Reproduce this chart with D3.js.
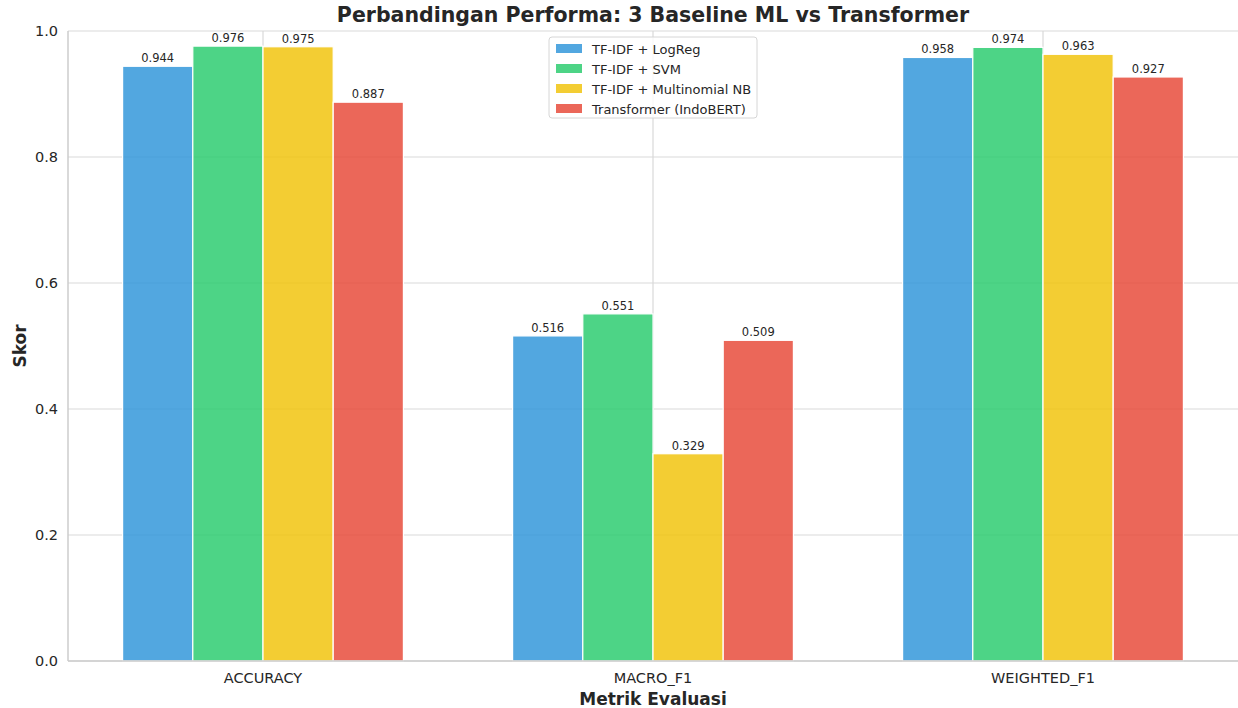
<!DOCTYPE html>
<html>
<head>
<meta charset="utf-8">
<script src="https://cdn.jsdelivr.net/npm/d3@7"></script>
<style>
  body { margin: 0; background: #fff; }
  text { font-family: "DejaVu Sans", sans-serif; fill: #262626; }
</style>
</head>
<body>
<svg id="chart" width="1238" height="708"></svg>
<script>
var metrics = ['ACCURACY', 'MACRO_F1', 'WEIGHTED_F1'];
var models = ['TF-IDF + LogReg', 'TF-IDF + SVM', 'TF-IDF + Multinomial NB', 'Transformer (IndoBERT)'];
var colors = ['#3498db', '#2ecc71', '#f1c40f', '#e74c3c'];
var logreg = [0.944, 0.516, 0.958];
var svm = [0.976, 0.551, 0.974];
var nb = [0.975, 0.329, 0.963];
var indobert = [0.887, 0.509, 0.927];
var series = [logreg, svm, nb, indobert];
var yTicks = [0, 0.2, 0.4, 0.6, 0.8, 1.0];

var svg = d3.select('#chart');
var mLeft = 68, mRight = 1238, mTop = 31, mBottom = 661;

var x = d3.scaleLinear().domain([-0.5, 2.5]).range([mLeft, mRight]);
var y = d3.scaleLinear().domain([0, 1]).range([mBottom, mTop]);
var bw = 0.18;

// grid
svg.append('g').selectAll('line').data(yTicks).enter().append('line')
  .attr('x1', mLeft).attr('x2', mRight)
  .attr('y1', function(d) { return y(d); }).attr('y2', function(d) { return y(d); })
  .attr('stroke', '#d9d9d9').attr('stroke-width', 1.2);
svg.append('g').selectAll('line').data(metrics).enter().append('line')
  .attr('x1', function(d, i) { return x(i); }).attr('x2', function(d, i) { return x(i); })
  .attr('y1', mTop).attr('y2', mBottom)
  .attr('stroke', '#d9d9d9').attr('stroke-width', 1.2);

// bars
series.forEach(function(vals, s) {
  var off = (s - 1.5) * bw;
  var g = svg.append('g');
  g.selectAll('rect').data(vals).enter().append('rect')
    .attr('x', function(d, i) { return x(i + off - bw / 2); })
    .attr('y', function(d) { return y(d); })
    .attr('width', x(bw) - x(0))
    .attr('height', function(d) { return y(0) - y(d); })
    .attr('fill', colors[s]).attr('fill-opacity', 0.85)
    .attr('stroke', '#fff').attr('stroke-width', 1.2);
  g.selectAll('text').data(vals).enter().append('text')
    .attr('x', function(d, i) { return x(i + off); })
    .attr('y', function(d) { return y(d) - 4; })
    .attr('text-anchor', 'middle')
    .style('font-size', '11.5px')
    .text(function(d) { return d.toFixed(3); });
});

// spines
svg.append('line').attr('x1', mLeft).attr('x2', mLeft).attr('y1', mTop).attr('y2', mBottom)
  .attr('stroke', '#cccccc').attr('stroke-width', 1.5);
svg.append('line').attr('x1', mLeft).attr('x2', mRight).attr('y1', mBottom).attr('y2', mBottom)
  .attr('stroke', '#cccccc').attr('stroke-width', 1.5);

// axes labels
svg.append('g').selectAll('text').data(yTicks).enter().append('text')
  .attr('x', mLeft - 10).attr('y', function(d) { return y(d); })
  .attr('dy', '0.35em').attr('text-anchor', 'end')
  .style('font-size', '14.5px')
  .text(function(d) { return d.toFixed(1); });
svg.append('g').selectAll('text').data(metrics).enter().append('text')
  .attr('x', function(d, i) { return x(i); }).attr('y', mBottom + 22)
  .attr('text-anchor', 'middle')
  .style('font-size', '14.5px')
  .text(function(d) { return d; });

svg.append('text').attr('x', (mLeft + mRight) / 2).attr('y', 22)
  .attr('text-anchor', 'middle').style('font-size', '20.5px').style('font-weight', 'bold')
  .text('Perbandingan Performa: 3 Baseline ML vs Transformer');
svg.append('text').attr('x', (mLeft + mRight) / 2).attr('y', 705)
  .attr('text-anchor', 'middle').style('font-size', '17px').style('font-weight', 'bold')
  .text('Metrik Evaluasi');
svg.append('text').attr('transform', 'translate(26,' + (mTop + mBottom) / 2 + ') rotate(-90)')
  .attr('text-anchor', 'middle').style('font-size', '17px').style('font-weight', 'bold')
  .text('Skor');

// legend
var lg = svg.append('g').attr('transform', 'translate(549,37)');
lg.append('rect').attr('width', 208).attr('height', 81).attr('rx', 3)
  .attr('fill', '#fff').attr('fill-opacity', 0.8).attr('stroke', '#d6d6d6');
models.forEach(function(m, i) {
  lg.append('rect').attr('x', 7).attr('y', 7 + i * 20).attr('width', 26).attr('height', 9)
    .attr('fill', colors[i]).attr('fill-opacity', 0.85);
  lg.append('text').attr('x', 43).attr('y', 12 + i * 20).attr('dy', '0.35em')
    .style('font-size', '13px').text(m);
});
</script>
</body>
</html>
